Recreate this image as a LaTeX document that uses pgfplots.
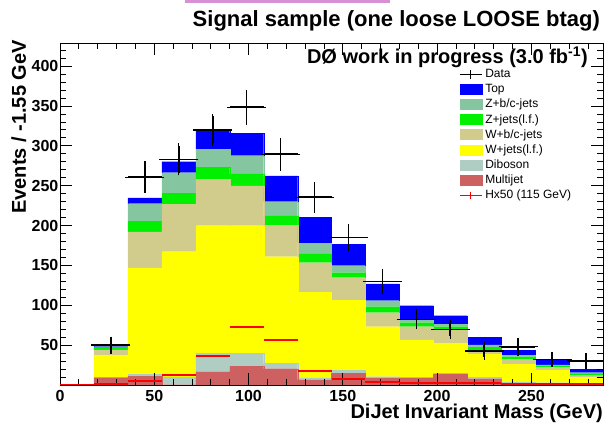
\documentclass[border=0pt]{standalone}
\usepackage{pgfplots}
\pgfplotsset{compat=1.18}
\usepackage{pgfplotstable}
\usepackage{fontspec}
\setmainfont{Liberation Sans}

\definecolor{cTop}{HTML}{0000FF}
\definecolor{cZbc}{HTML}{85C5A0}
\definecolor{cZlf}{HTML}{00F000}
\definecolor{cWbc}{HTML}{D2CC8C}
\definecolor{cWlf}{HTML}{FFFF00}
\definecolor{cDib}{HTML}{AFCDC3}
\definecolor{cMJ}{HTML}{CD6060}
\definecolor{cPink}{HTML}{D690D6}

% stacked backgrounds (bin centres, bin width 18 GeV)
\pgfplotstableread{
x   mj    dib   wlf    wbc   zlf   zbc   top
27  9.2   0.8   27.0   7.0   3.0   1.0   1.5
45  11.0  2.4   133.4  45.2  13.4  22.1  7.3
63  0.5   9.5   157.3  59.4  13.8  25.9  13.8
81  16.7  23.0  160.2  58.1  15.0  23.0  24.8
99  23.8  15.9  160.2  49.8  15.0  23.0  28.1
117 20.5  6.7   133.8  39.7  11.5  17.8  32.4
135 6.3   2.9   107.1  37.2  10.9  13.4  32.6
153 15.0  3.5   88.1   28.0  6.3   8.8   26.8
171 9.0   1.5   62.7   17.5  7.6   7.5   20.9
189 9.0   0.6   46.9   16.7  5.0   3.4   17.9
207 14.0  0.7   37.6   16.7  4.2   3.3   10.5
225 8.0   1.6   28.9   5.4   3.4   2.9   9.6
243 2.0   2.2   22.1   6.3   2.9   2.1   6.3
261 1.5   1.4   15.9   3.4   1.6   1.3   6.3
279 1.0   1.0   7.6    2.1   2.5   1.2   4.6
}\stacktab

\pgfplotstableread{
x   y      e
27  50.0   7.5
45  260.6  16.7
63  283.0  17.0
81  320.0  17.0
99  348.4  19.0
117 289.4  17.4
135 235.5  16.0
153 184.8  13.6
171 130.0  12.5
189 82.4   9.4
207 69.8   8.6
225 42.7   7.7
243 48.0   8.0
261 32.2   6.3
279 30.1   7.0
}\datatab

\pgfplotstableread{
x   s
9   0.0
27  1.0
45  5.0
63  13.0
81  37.0
99  73.0
117 56.5
135 18.0
153 7.0
171 3.5
189 3.0
207 3.0
225 2.0
243 1.5
261 1.0
279 1.0
}\sigtab

\begin{document}
\begin{tikzpicture}
\pgfplotsset{
  common/.style={
    width=543bp, height=342bp, scale only axis,
    xmin=0, xmax=288, ymin=0, ymax=429,
  }
}
\begin{axis}[common, name=ax, axis on top,
  ybar stacked, bar width=18,
  xtick={0,50,...,250}, minor xtick={10,20,...,280},
  ytick={50,100,...,400}, minor ytick={10,20,...,420},
  tick align=inside, major tick length=12bp, minor tick length=6bp,
  /pgf/number format/assume math mode=true,
  ticklabel style={font=\fontsize{16bp}{18bp}\selectfont\bfseries},
  yticklabel style={inner sep=1.5bp},
  xticklabel style={yshift=-1.5bp},
  axis line style={line width=0.8bp},
  every tick/.style={black, line width=0.8bp},
]
\addplot[fill=cMJ,  draw=cMJ,  line width=0.1bp] table[x=x,y=mj]{\stacktab};
\addplot[fill=cDib, draw=cDib, line width=0.1bp] table[x=x,y=dib]{\stacktab};
\addplot[fill=cWlf, draw=cWlf, line width=0.1bp] table[x=x,y=wlf]{\stacktab};
\addplot[fill=cWbc, draw=cWbc, line width=0.1bp] table[x=x,y=wbc]{\stacktab};
\addplot[fill=cZlf, draw=cZlf, line width=0.1bp] table[x=x,y=zlf]{\stacktab};
\addplot[fill=cZbc, draw=cZbc, line width=0.1bp] table[x=x,y=zbc]{\stacktab};
\addplot[fill=cTop, draw=cTop, line width=0.1bp] table[x=x,y=top]{\stacktab};
\end{axis}

\begin{axis}[common, hide axis,
  legend style={at={(0.735,0.925)}, anchor=north west, draw=none, fill=none,
    inner sep=0pt, outer sep=0pt,
    font=\fontsize{12bp}{14bp}\selectfont, row sep=3bp, column sep=2bp,
    nodes={inner sep=1bp},
  },
  legend cell align=left,
]
\addlegendimage{legend image code/.code={\draw[black, line width=1.2bp] (0bp,0bp) -- (22bp,0bp) (11bp,-4.5bp) -- (11bp,4.5bp);}}
\addlegendentry{Data}
\addlegendimage{legend image code/.code={\fill[cTop] (0bp,-5bp) rectangle (22bp,5bp);}}
\addlegendentry{Top}
\addlegendimage{legend image code/.code={\fill[cZbc] (0bp,-5bp) rectangle (22bp,5bp);}}
\addlegendentry{Z+b/c-jets}
\addlegendimage{legend image code/.code={\fill[cZlf] (0bp,-5bp) rectangle (22bp,5bp);}}
\addlegendentry{Z+jets(l.f.)}
\addlegendimage{legend image code/.code={\fill[cWbc] (0bp,-5bp) rectangle (22bp,5bp);}}
\addlegendentry{W+b/c-jets}
\addlegendimage{legend image code/.code={\fill[cWlf] (0bp,-5bp) rectangle (22bp,5bp);}}
\addlegendentry{W+jets(l.f.)}
\addlegendimage{legend image code/.code={\fill[cDib] (0bp,-5bp) rectangle (22bp,5bp);}}
\addlegendentry{Diboson}
\addlegendimage{legend image code/.code={\fill[cMJ] (0bp,-5bp) rectangle (22bp,5bp);}}
\addlegendentry{Multijet}
\addlegendimage{legend image code/.code={\draw[red, line width=0.8bp] (0bp,0bp) -- (22bp,0bp) (11bp,-3.5bp) -- (11bp,3.5bp);}}
\addlegendentry{Hx50 (115 GeV)}

\addplot[draw=none, mark=none, forget plot,
  error bars/.cd, x dir=both, x fixed=9, error mark=none,
  error bar style={draw=red, line width=2bp}]
  table[x=x,y=s]{\sigtab};
\addplot[draw=none, mark=none, forget plot,
  error bars/.cd, x dir=both, x fixed=9, y dir=both, y explicit,
  error bar style={draw=black, line width=1.6bp},
  error mark options={draw=black, line width=1.4bp, mark size=2.5bp}]
  table[x=x,y=y,y error=e]{\datatab};
\end{axis}

\fill[cPink] ([xshift=125bp,yshift=40bp]ax.north west) rectangle ([xshift=330bp,yshift=43bp]ax.north west);
\node[anchor=base east, inner sep=0pt, font=\fontsize{22bp}{24bp}\selectfont\bfseries]
  at ([xshift=-3bp,yshift=16bp]ax.north east) {Signal sample (one loose LOOSE btag)};
\node[anchor=base east, inner sep=0pt, font=\fontsize{20bp}{24bp}\selectfont\bfseries]
  at ([xshift=-15bp,yshift=-21bp]ax.north east) {DØ work in progress (3.0 fb\textsuperscript{-1})};
\node[anchor=base east, inner sep=0pt, font=\fontsize{20bp}{24bp}\selectfont\bfseries]
  at ([yshift=-33bp]ax.south east) {DiJet Invariant Mass (GeV)};
\node[rotate=90, anchor=base east, inner sep=0pt, font=\fontsize{20bp}{24bp}\selectfont\bfseries]
  at ([xshift=-34bp,yshift=3bp]ax.north west) {Events / -1.55 GeV};

\pgfresetboundingbox
\path ([xshift=-60bp,yshift=-44bp]ax.south west) rectangle ([xshift=2bp,yshift=43bp]ax.north east);
\end{tikzpicture}
\end{document}
